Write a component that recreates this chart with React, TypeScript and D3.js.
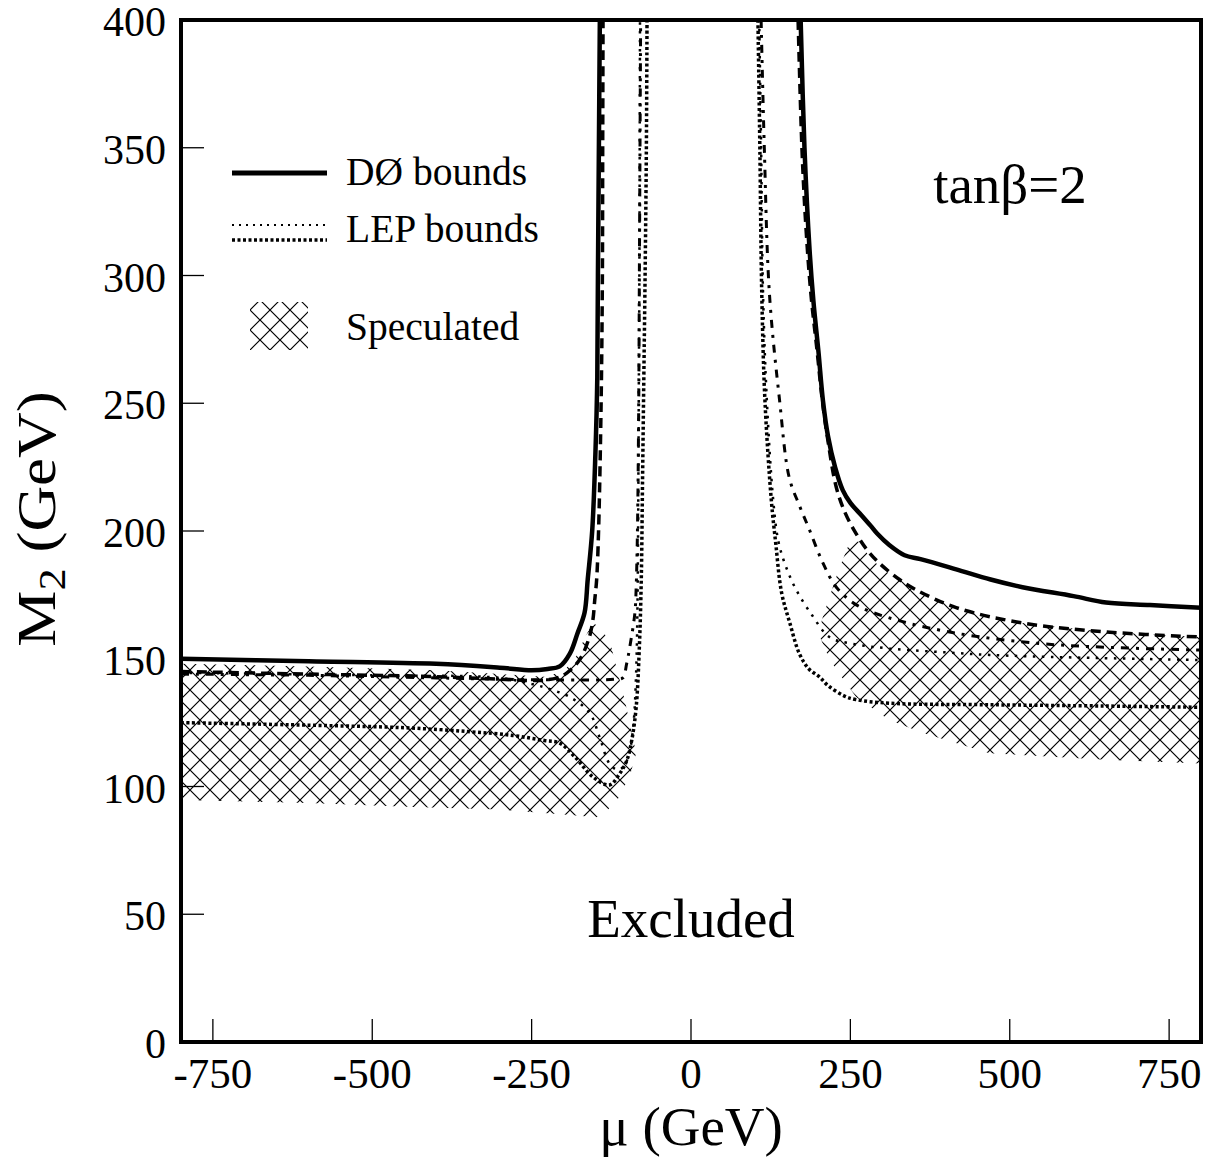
import React from "react";
import * as d3 from "d3";

type P = [number, number];

const MU_TICKS = [-750, -500, -250, 0, 250, 500, 750];
const M2_TICKS = [0, 50, 100, 150, 200, 250, 300, 350, 400];

// DØ bounds (solid)
const d0Left: P[] = [[-800,150],[-600,149],[-400,148],[-300,146.5],[-250,145.5],[-225,146],[-206,147],[-190,152],[-178,160],[-167,168],[-162,181],[-155,200],[-150,230],[-147,260],[-146,300],[-144.5,350],[-143,400]];
const d0Right: P[] = [[172,400],[178,350],[186,310],[192,290],[200,270],[207,251],[215,237],[226,225],[238,216],[250,211],[268,206],[282,202],[292,199],[311,194.5],[335,190.5],[360,189],[416,185],[470,181],[520,178],[600,174.5],[651,172],[720,171],[800,170]];

// dashed
const dashLeft: P[] = [[-800,145],[-600,144],[-400,143],[-300,142],[-240,141.5],[-210,142.5],[-195,144.4],[-175,149.5],[-160,158],[-154,165],[-151,173],[-148,181],[-145,200],[-141,250],[-139,300],[-138.5,350],[-138,400]];
const dashRight: P[] = [[168,400],[174,350],[180,320],[188,293],[198,270],[206,251],[215,235],[228,217],[242,207],[259,199],[275,193],[295,187.5],[327,181],[353,177],[416,170],[520,164],[651,160.5],[800,158.5]];

// dash-dot
const ddLeft: P[] = [[-800,144],[-600,143.5],[-400,142.5],[-300,142],[-200,141.7],[-143,141.7],[-120,142],[-107,142.5],[-101,148],[-96,154.6],[-88,168],[-86,178],[-84,200],[-82,250],[-81,300],[-80,350],[-79,400]];
const ddRight: P[] = [[110,400],[115,350],[123,293],[139,251],[154,221],[170,210],[185,201],[206,188],[228,178],[260,171],[311,166],[416,160],[546,156],[650,154.5],[800,153.4]];

// LEP thin dotted
const thinLeft: P[] = [[-800,144.5],[-500,143.5],[-300,142.5],[-248,140],[-220,138],[-190,135],[-159,128.8],[-143,119],[-128,109],[-115,106.5],[-105,108],[-96,114],[-90,125],[-86,145],[-84,170],[-83,200],[-82,250],[-81,300],[-80,400]];
const thinRight: P[] = [[107,400],[110,350],[113,293],[119,251],[129,212],[137,196],[149,186],[165,177],[190,167],[217,158.5],[250,156],[311,154],[400,152.5],[468,151.5],[600,150.5],[800,149.5]];

// LEP thick dotted
const thickLeft: P[] = [[-800,125],[-600,124],[-450,123],[-350,121.5],[-280,120],[-230,118],[-206,117],[-180,111],[-155,104],[-128,100.6],[-112,105],[-101,110],[-93,118],[-86,131],[-81,154.6],[-78,181],[-76,220],[-74,260],[-72,300],[-70,350],[-69,400]];
const thickRight: P[] = [[105,400],[108,350],[111,293],[116,251],[126,212],[133,195],[142,176],[155,164],[170,152],[185,146],[201,143],[215,139.5],[240,135.5],[259,134],[311,132.6],[468,132],[650,131.5],[800,131]];

// Speculated (hatched) regions
const specLeft: P[] = [[-800,148],[-600,147],[-400,145.5],[-300,144],[-230,143],[-200,145],[-180,151],[-165,159],[-154,164],[-140,162],[-125,154.6],[-104,134],[-92,120],[-86,113],[-95,105],[-112,96],[-130,91],[-148,88],[-200,89],[-300,91],[-436,92],[-600,93.5],[-800,94.7]];
const specRight: P[] = [[248,195],[262,196],[280,190],[300,185],[327,181],[360,176],[416,170],[520,164],[651,160.5],[800,158.5],[800,109],[650,110.5],[468,113],[363,121],[311,126],[259,135],[230,145],[217,150],[203,158],[205,165],[217,174],[232,185]];

const W = 1212, H = 1157;
const L = 181, R = 1201, T = 20, B = 1042;
const FONT = "'Liberation Serif', 'Times New Roman', Times, serif";

export default function App() {
  const x = d3.scaleLinear().domain([-800, 800]).range([L, R]);
  const y = d3.scaleLinear().domain([0, 400]).range([B, T]);
  const line = d3.line<P>().x(d => x(d[0])).y(d => y(d[1])).curve(d3.curveCatmullRom.alpha(0.5));
  const area = d3.line<P>().x(d => x(d[0])).y(d => y(d[1])).curve(d3.curveLinearClosed);

  const styles = {
    solid: { stroke: "#000", strokeWidth: 4.5, fill: "none" },
    dash: { stroke: "#000", strokeWidth: 3.5, fill: "none", strokeDasharray: "10 6" },
    dd: { stroke: "#000", strokeWidth: 3, fill: "none", strokeDasharray: "8 7 3 7" },
    thin: { stroke: "#000", strokeWidth: 2.5, fill: "none", strokeDasharray: "2.5 6.5" },
    thick: { stroke: "#000", strokeWidth: 3.5, fill: "none", strokeDasharray: "3 2.5" },
  } as const;

  return (
    <svg width={W} height={H} style={{ position: "absolute", left: 0, top: 0, background: "#fff" }} fontFamily={FONT}>
      <defs>
        <pattern id="hatch" patternUnits="userSpaceOnUse" width={20} height={20}>
          <path d="M0,0 L20,20 M20,0 L0,20" stroke="#000" strokeWidth={1.2} />
        </pattern>
        <clipPath id="plot"><rect x={L} y={T} width={R - L} height={B - T} /></clipPath>
      </defs>
      <rect x={0} y={0} width={W} height={H} fill="#fff" />
      <g clipPath="url(#plot)">
        <path d={area(specLeft) || ""} fill="url(#hatch)" />
        <path d={area(specRight) || ""} fill="url(#hatch)" />
        <path d={line(thickLeft) || ""} {...styles.thick} />
        <path d={line(thickRight) || ""} {...styles.thick} />
        <path d={line(thinLeft) || ""} {...styles.thin} />
        <path d={line(thinRight) || ""} {...styles.thin} />
        <path d={line(ddLeft) || ""} {...styles.dd} />
        <path d={line(ddRight) || ""} {...styles.dd} />
        <path d={line(dashLeft) || ""} {...styles.dash} />
        <path d={line(dashRight) || ""} {...styles.dash} />
        <path d={line(d0Left) || ""} {...styles.solid} />
        <path d={line(d0Right) || ""} {...styles.solid} />
      </g>
      {/* ticks */}
      {MU_TICKS.map(t => (
        <line key={"xt" + t} x1={x(t)} x2={x(t)} y1={B} y2={B - 23} stroke="#000" strokeWidth={1.3} />
      ))}
      {M2_TICKS.map(t => (
        <line key={"yt" + t} x1={L} x2={L + 23} y1={y(t)} y2={y(t)} stroke="#000" strokeWidth={1.3} />
      ))}
      <rect x={L} y={T} width={R - L} height={B - T} fill="none" stroke="#000" strokeWidth={4} />
      {/* tick labels */}
      {MU_TICKS.map(t => (
        <text key={"xl" + t} x={x(t)} y={1088} textAnchor="middle" fontSize={43}>{t}</text>
      ))}
      {M2_TICKS.map(t => (
        <text key={"yl" + t} x={166} y={y(t) + 16} textAnchor="end" fontSize={42}>{t}</text>
      ))}
      {/* axis titles */}
      <text x={691} y={1145} textAnchor="middle" fontSize={55}>μ (GeV)</text>
      <text transform="translate(55,519) rotate(-90) scale(1.17,1)" textAnchor="middle" fontSize={54}>
        M<tspan fontSize={38} dy={10}>2</tspan><tspan dy={-10}> (GeV)</tspan>
      </text>
      {/* annotations */}
      <text x={1010} y={203} textAnchor="middle" fontSize={55}>tanβ=2</text>
      <text x={691} y={937} textAnchor="middle" fontSize={55}>Excluded</text>
      {/* legend */}
      <line x1={232} x2={327} y1={173} y2={173} stroke="#000" strokeWidth={5} />
      <text x={346} y={185} fontSize={39.5}>DØ bounds</text>
      <line x1={232} x2={327} y1={225} y2={225} stroke="#000" strokeWidth={2} strokeDasharray="2 5" />
      <line x1={232} x2={327} y1={240} y2={240} stroke="#000" strokeWidth={3.5} strokeDasharray="3 2.5" />
      <text x={346} y={242} fontSize={39.5}>LEP bounds</text>
      <rect x={250} y={302} width={58} height={48} fill="url(#hatch)" />
      <text x={346} y={340} fontSize={39.5}>Speculated</text>
    </svg>
  );
}
